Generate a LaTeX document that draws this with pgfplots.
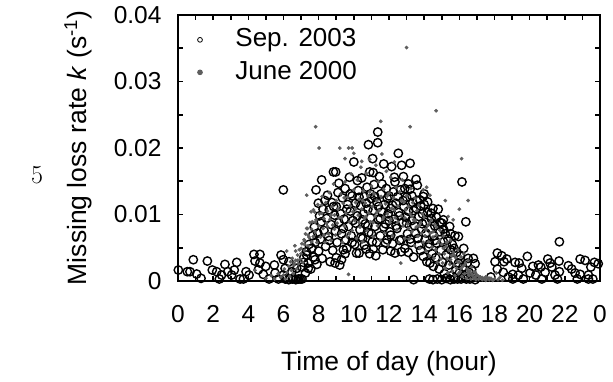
\documentclass[border=0pt]{standalone}
\usepackage{fontspec}
\setmainfont{Liberation Sans}
\usepackage{pgfplots}
\pgfplotsset{compat=1.18}
\definecolor{dotgray}{HTML}{5E5E5E}
\begin{document}
\fontsize{25pt}{30pt}\selectfont
\begin{tikzpicture}[x=1pt,y=1pt]
\useasboundingbox (0,0) rectangle (613,-382);
\node at (37,-175) {\fontfamily{lmr}\fontsize{26pt}{30pt}\selectfont 5};
\begin{axis}[
  at={(178pt,-281pt)}, anchor=south west,
  scale only axis, width=422pt, height=266pt,
  xmin=0, xmax=24, ymin=0, ymax=0.04,
  clip=false,
  xtick={0,2,...,24}, xticklabels={0,2,4,6,8,10,12,14,16,18,20,22,0},
  minor xtick={1,3,...,23},
  ytick={0,0.01,0.02,0.03,0.04}, yticklabels={0,0.01,0.02,0.03,0.04},
  minor ytick={0.005,0.015,0.025,0.035},
  scaled y ticks=false,
  tick align=inside, major tick length=5pt, minor tick length=5pt,
  every tick/.style={line width=1.6pt, black},
  minor tick style={line width=1.6pt, black},
  axis line style={line width=1.8pt},
  /pgf/number format/assume math mode=true,
  tick label style={font=\fontsize{24.5pt}{29pt}\selectfont},
  xticklabel style={yshift=-14.5pt, text height=18pt, text depth=0pt},
  yticklabel style={xshift=-8pt},
  xlabel={Time of day (hour)},
  ylabel={Missing loss rate \textit{k} (s\textsuperscript{-1})},
  label style={font=\fontsize{26.5pt}{31pt}\selectfont},
  xlabel style={at={(axis description cs:0.5,-0.31)}, anchor=center},
  ylabel style={at={(axis description cs:-0.237,0.5)}, anchor=center},
  legend style={draw=none, fill=none, inner sep=0pt, at={(axis description cs:0.046,0.96)}, anchor=north west,
    font=\fontsize{26pt}{30pt}\selectfont,
    nodes={text height=19pt, text depth=5pt, inner sep=2pt},
    row sep=4.5pt,
    /tikz/every odd column/.append style={column sep=31pt}},
  legend cell align=left,
  legend image code/.code={\draw[#1, mark size=2.4pt, every mark/.append style={line width=0.8pt}] plot coordinates {(0pt,0pt)};},
]
\addplot[only marks, mark=o, mark size=4.2pt, mark options={line width=1.4pt, draw=black, fill=white}] table {
x y
0.02 0.00165
0.53 0.0014
0.68 0.0014
0.87 0.0032
1.06 0.00105
1.31 0.0004
1.67 0.003
1.95 0.00165
2.2 0.0014
2.35 0.0003
2.48 0.0009
2.67 0.0025
2.83 0.0014
3.05 0.0009
3.2 0.00165
3.34 0.0028
3.53 0.0003
3.72 0.0003
3.87 0.0014
4.04 0.0009
4.32 0.004
4.66 0.004
4.38 0.003
4.66 0.0027
4.57 0.0017
4.85 0.001
4.99 0.0022
5.18 0.0003
5.48 0.0024
5.52 0.0012
5.71 0.0003
5.86 0.0039
5.99 0.0032
6.09 0.0019
5.99 0.0009
5.99 0.0137
6.31 0.0029
6.47 0.0014
6.56 0.0004
6.75 0.0019
6.94 0.0003
7.13 0.0028
7.32 0.0039
7.41 0.0019
7.6 0.0049
7.79 0.0032
6.1 0.0003
6.3 0.0002
6.5 0.0003
6.7 0.0002
6.85 0.0003
7.05 0.0003
7.05 0.0021
7.15 0.0035
7.25 0.0012
7.3 0.0044
7.4 0.0027
7.45 0.0055
7.55 0.0018
7.6 0.0049
7.65 0.0068
7.7 0.0036
7.75 0.0081
7.8 0.0058
7.85 0.0137
7.9 0.0025
7.95 0.0072
7.98 0.0117
8.0 0.0045
8.05 0.0098
8.1 0.0063
8.15 0.0089
8.17 0.0152
8.2 0.0034
8.25 0.0108
8.3 0.0076
8.35 0.0121
8.4 0.0052
8.45 0.0094
8.5 0.0129
8.55 0.0067
8.6 0.0107
8.6 0.0061
8.65 0.0029
8.7 0.0085
8.75 0.0118
8.8 0.0046
8.84 0.0164
8.85 0.0112
8.9 0.0099
8.93 0.0027
8.97 0.0164
8.95 0.0075
9.0 0.0112
9.0 0.0035
9.05 0.0058
9.1 0.0133
9.15 0.0088
9.15 0.0147
9.2 0.0024
9.25 0.0101
9.3 0.0071
9.3 0.0032
9.35 0.0125
9.4 0.0047
9.4 0.0079
9.45 0.0093
9.5 0.0139
9.5 0.0041
9.55 0.0062
9.6 0.0049
9.6 0.0108
9.65 0.0115
9.7 0.0082
9.75 0.0156
9.8 0.0105
9.8 0.0131
9.85 0.0068
9.9 0.0128
9.9 0.0058
9.95 0.0091
10.0 0.0179
10.05 0.0055
10.1 0.0117
10.1 0.0087
10.15 0.0042
10.2 0.0098
10.2 0.0151
10.25 0.0136
10.3 0.0042
10.3 0.0126
10.35 0.0077
10.4 0.0113
10.4 0.0066
10.45 0.0155
10.5 0.0064
10.5 0.0092
10.55 0.0101
10.6 0.0127
10.6 0.0054
10.65 0.0086
10.7 0.0048
10.7 0.0117
10.75 0.0141
10.8 0.0108
10.8 0.0083
10.83 0.0205
10.85 0.0073
10.9 0.0164
10.9 0.0041
10.95 0.0095
10.95 0.0131
11.0 0.0124
11.0 0.0071
11.05 0.0059
11.07 0.0184
11.1 0.0106
11.1 0.0163
11.1 0.0048
11.15 0.0145
11.2 0.0082
11.2 0.0127
11.25 0.0038
11.3 0.0119
11.3 0.0058
11.36 0.0224
11.36 0.0208
11.4 0.0092
11.4 0.0112
11.45 0.0157
11.5 0.0068
11.5 0.0094
11.55 0.0131
11.6 0.0104
11.6 0.0146
11.65 0.0047
11.7 0.0176
11.7 0.0081
11.75 0.0115
11.8 0.0086
11.8 0.0057
11.85 0.0139
11.9 0.0062
11.9 0.0124
11.95 0.0101
12.0 0.0128
12.0 0.0091
12.05 0.0074
12.1 0.0109
12.1 0.0069
12.1 0.0045
12.15 0.0172
12.2 0.0056
12.2 0.0114
12.25 0.0134
12.3 0.0093
12.3 0.0156
12.34 0.0149
12.34 0.0042
12.4 0.0117
12.4 0.0083
12.45 0.0079
12.5 0.0127
12.53 0.0192
12.55 0.0103
12.6 0.0061
12.6 0.0098
12.65 0.0137
12.7 0.0062
12.7 0.0044
12.72 0.0174
12.75 0.0088
12.8 0.0121
12.82 0.0157
12.85 0.0112
12.9 0.0049
12.9 0.0139
12.95 0.0096
13.0 0.0126
13.0 0.0087
13.05 0.0071
13.1 0.0105
13.1 0.0146
13.1 0.0043
13.2 0.0177
13.2 0.0138
13.2 0.0063
13.25 0.0058
13.3 0.0091
13.3 0.0128
13.35 0.0118
13.4 0.0036
13.4 0.0106
13.4 0.0002
13.45 0.0083
13.5 0.0072
13.54 0.0153
13.55 0.0109
13.6 0.0121
13.61 0.0144
13.65 0.0064
13.7 0.0097
13.7 0.0054
13.75 0.0122
13.8 0.0046
13.8 0.0113
13.85 0.0078
13.9 0.0086
13.95 0.0127
13.95 0.0037
13.9 0.0101
14.0 0.0115
14.0 0.0131
14.05 0.0062
14.1 0.0088
14.1 0.0072
14.15 0.0029
14.2 0.0103
14.2 0.0119
14.25 0.0051
14.3 0.0056
14.33 0.0027
14.35 0.0079
14.4 0.0094
14.4 0.0102
14.45 0.0041
14.5 0.0109
14.52 0.0022
14.55 0.0068
14.6 0.0083
14.6 0.0061
14.65 0.0035
14.7 0.0057
14.7 0.0096
14.8 0.0108
14.85 0.0018
14.9 0.0074
14.9 0.0088
14.95 0.0046
15.0 0.0087
15.05 0.0028
15.09 0.0092
15.1 0.0059
15.1 0.0078
15.15 0.0011
15.2 0.0071
15.25 0.0039
15.3 0.0005
15.3 0.0052
15.35 0.0063
15.4 0.0024
15.45 0.0082
15.5 0.0047
15.5 0.0071
15.55 0.0008
15.6 0.0055
15.65 0.0031
15.7 0.0003
15.7 0.0049
15.75 0.0068
15.8 0.0016
15.85 0.0043
15.9 0.0003
15.95 0.0067
15.95 0.0027
14.3 0.0003
14.5 0.0002
14.75 0.0003
15.0 0.0002
15.25 0.0004
15.5 0.0002
16.0 0.0012
16.05 0.0038
16.1 0.0003
16.15 0.0149
16.2 0.0021
16.25 0.0049
16.3 0.0008
16.37 0.0089
16.4 0.0003
16.45 0.0027
16.5 0.0034
16.55 0.0013
16.6 0.0003
16.7 0.0017
16.75 0.0006
16.8 0.0034
16.8 0.0006
16.9 0.0026
16.9 0.0002
17.79 0.0006
18.03 0.0029
18.16 0.0042
18.41 0.0038
18.7 0.0033
18.54 0.0029
18.16 0.0018
18.5 0.0013
18.79 0.0006
19.04 0.001
19.04 0.0003
19.17 0.0028
19.4 0.0027
19.36 0.0009
19.55 0.0019
19.64 0.0003
19.87 0.0037
20.02 0.0012
20.18 0.0022
20.35 0.0009
20.5 0.0024
20.63 0.0021
20.69 0.0003
20.88 0.0013
21.03 0.0033
21.16 0.0027
21.26 0.0021
21.44 0.0009
21.58 0.0003
21.67 0.003
21.69 0.0059
21.69 0.0014
22.2 0.0023
22.39 0.0018
22.58 0.0012
22.71 0.0003
22.87 0.0033
22.87 0.001
23.15 0.0031
23.34 0.0009
23.34 0.0003
23.48 0.0021
23.59 0.0003
23.68 0.0028
23.9 0.0026
};
\addlegendentry{Sep. 2003}
\addplot[only marks, mark=*, mark size=1.7pt, color=dotgray] table {
x y
4.38 0.0016
5.0 0.0004
5.3 0.0008
5.5 0.0003
5.7 0.0011
5.85 0.0006
6.0 0.0009
6.05 0.0018
6.1 0.0003
6.18 0.0045
6.2 0.0013
6.3 0.0022
6.35 0.0007
6.4 0.0029
6.45 0.0016
6.5 0.0034
6.55 0.0011
6.6 0.0024
6.6 0.0027
6.65 0.0053
6.69 0.0045
6.7 0.0031
6.75 0.0018
6.8 0.0039
6.8 0.0031
6.85 0.0026
6.9 0.0047
6.95 0.0033
7.0 0.0041
7.0 0.0049
7.05 0.0056
7.1 0.0028
7.17 0.0062
7.19 0.006
7.2 0.0046
7.2 0.0055
7.25 0.0071
7.32 0.0129
7.32 0.0079
7.36 0.0079
7.4 0.0053
7.4 0.0069
7.45 0.0066
7.5 0.0088
7.57 0.0104
7.6 0.0059
7.6 0.0078
7.64 0.0089
7.7 0.0067
7.7 0.0107
7.76 0.0104
7.8 0.0074
7.8 0.0088
7.83 0.0232
7.85 0.0092
7.9 0.0058
7.95 0.0115
8.0 0.0083
8.02 0.0200
8.05 0.0101
8.1 0.0066
8.17 0.0102
8.17 0.0114
8.2 0.0127
8.25 0.0079
8.3 0.0094
8.3 0.0069
8.35 0.0058
8.4 0.0118
8.45 0.0087
8.5 0.0105
8.5 0.0082
8.55 0.0071
8.6 0.0133
8.65 0.0093
8.7 0.0061
8.7 0.0099
8.75 0.0112
8.8 0.0084
8.85 0.0146
8.9 0.0099
8.9 0.0078
8.95 0.0069
9.0 0.0121
9.05 0.0087
9.1 0.0108
9.15 0.0095
9.2 0.0200
9.2 0.0072
9.25 0.0131
9.3 0.0095
9.35 0.0058
9.4 0.0117
9.45 0.0083
9.45 0.0125
9.5 0.0149
9.5 0.0184
9.55 0.0102
9.6 0.0067
9.65 0.0126
9.7 0.0200
9.7 0.0010
9.75 0.0089
9.75 0.0071
9.8 0.0113
9.85 0.0161
9.9 0.0200
9.9 0.0076
9.95 0.0104
10.0 0.0137
10.0 0.0192
10.05 0.0091
10.1 0.0118
10.1 0.0108
10.15 0.0064
10.2 0.0152
10.25 0.0099
10.3 0.0123
10.3 0.0088
10.35 0.0081
10.4 0.0171
10.45 0.0108
10.45 0.0180
10.5 0.0059
10.5 0.0121
10.55 0.0135
10.6 0.0094
10.65 0.0117
10.7 0.0162
10.7 0.0097
10.75 0.0076
10.8 0.0128
10.85 0.0102
10.9 0.0183
10.9 0.0134
10.95 0.0089
11.0 0.0143
11.05 0.0112
11.1 0.0067
11.1 0.0088
11.15 0.0131
11.2 0.0097
11.25 0.0174
11.3 0.0121
11.3 0.0103
11.35 0.0083
11.4 0.0149
11.45 0.0106
11.53 0.0240
11.5 0.0061
11.5 0.0115
11.55 0.0127
11.6 0.0191
11.65 0.0093
11.7 0.0138
11.7 0.0096
11.75 0.0072
11.8 0.0116
11.85 0.0165
11.9 0.0101
11.9 0.0128
11.95 0.0054
12.0 0.0132
12.05 0.0088
12.1 0.0156
12.1 0.0093
12.15 0.0109
12.2 0.0068
12.25 0.0125
12.3 0.0179
12.3 0.0107
12.35 0.0095
12.4 0.0141
12.45 0.0077
12.5 0.0113
12.5 0.0089
12.55 0.0058
12.6 0.0134
12.67 0.0027
12.7 0.0098
12.7 0.0121
12.75 0.0152
12.8 0.0083
12.85 0.0119
12.9 0.0064
12.9 0.0095
12.95 0.0107
13.0 0.0351
13.0 0.0128
13.05 0.0086
13.1 0.0112
13.1 0.0079
13.15 0.0063
13.2 0.0232
13.2 0.0101
13.25 0.0139
13.3 0.0074
13.3 0.0097
13.35 0.0118
13.4 0.0092
13.45 0.0053
13.5 0.0124
13.5 0.0091
13.55 0.0081
13.6 0.0106
13.65 0.0067
13.7 0.0114
13.7 0.0083
13.75 0.0049
13.8 0.0088
13.85 0.0072
13.9 0.0101
13.95 0.0137
13.95 0.0058
14.0 0.0096
14.05 0.0068
14.1 0.0045
14.1 0.0078
14.14 0.0141
14.2 0.0083
14.25 0.0059
14.33 0.0129
14.3 0.0038
14.3 0.0087
14.35 0.0072
14.4 0.0092
14.45 0.0051
14.5 0.0066
14.5 0.0074
14.55 0.0034
14.6 0.0085
14.68 0.0256
14.65 0.0047
14.7 0.0069
14.7 0.0081
14.75 0.0028
14.8 0.0058
14.85 0.0041
14.9 0.0076
14.9 0.0062
14.95 0.0033
15.0 0.0055
15.05 0.0027
15.1 0.0068
15.1 0.0049
15.15 0.0041
15.2 0.0121
15.2 0.0019
15.25 0.0052
15.3 0.0034
15.3 0.0058
15.37 0.0097
15.35 0.0012
15.4 0.0046
15.45 0.0025
15.5 0.0061
15.5 0.0032
15.55 0.0038
15.6 0.0015
15.65 0.0092
15.65 0.0043
15.7 0.0024
15.7 0.0039
15.75 0.0008
15.8 0.0035
15.85 0.0019
15.9 0.0047
15.9 0.0029
15.95 0.0011
16.0 0.0108
16.0 0.0028
16.05 0.0014
16.13 0.0184
16.1 0.0036
16.1 0.0019
16.15 0.0007
16.2 0.0022
16.25 0.0041
16.3 0.0011
16.3 0.0024
16.35 0.0027
16.4 0.0004
16.45 0.0018
16.5 0.0121
16.5 0.0031
16.5 0.0012
16.55 0.0008
16.6 0.0015
16.65 0.0003
16.7 0.0021
16.7 0.0011
16.75 0.0009
16.8 0.0004
16.85 0.0014
16.9 0.0006
16.9 0.0013
16.95 0.0002
17.0 0.0009
17.1 0.0003
17.1 0.0007
17.2 0.0006
17.3 0.0002
17.3 0.0005
17.4 0.0004
17.5 0.0001
17.5 0.0006
17.6 0.0005
17.7 0.0002
17.7 0.0004
17.8 0.0004
17.9 0.0001
18.0 0.0003
18.1 0.0012
18.2 0.0002
18.3 0.0005
18.45 0.0001
};
\addlegendentry{June 2000}
\end{axis}
\end{tikzpicture}
\end{document}
